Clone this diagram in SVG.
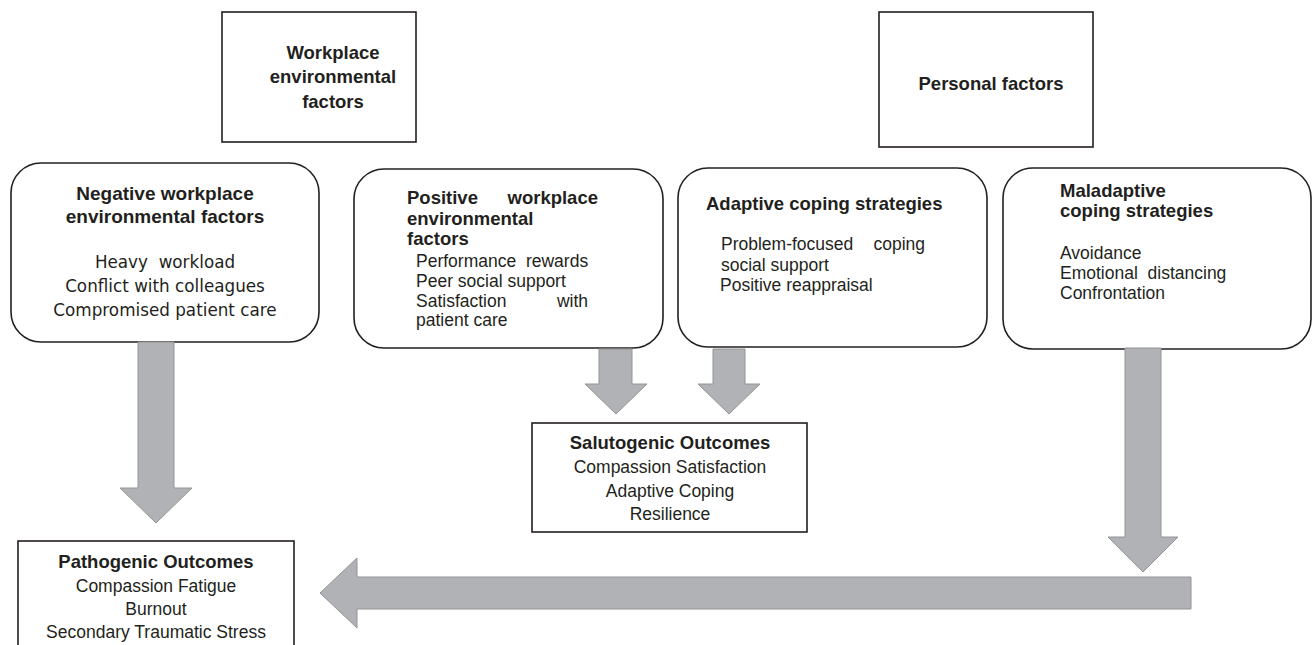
<svg xmlns="http://www.w3.org/2000/svg" width="1313" height="645" viewBox="0 0 1313 645">
<style>
.box{fill:#fff;stroke:#231f20;stroke-width:1.6}
.arr{fill:#b1b2b5;stroke:#939496;stroke-width:1}
.t{font-family:"Liberation Sans",Arial,sans-serif;font-weight:bold;font-size:18.5px;fill:#231f20}
.b{font-family:"Liberation Sans",Arial,sans-serif;font-size:17.5px;fill:#231f20;white-space:pre}
.d{font-family:"DejaVu Sans",sans-serif;font-size:16.8px;fill:#231f20;white-space:pre}
.c{text-anchor:middle}
</style>
<rect width="1313" height="645" fill="#fff"/>
<g id="workplace">
<rect class="box" x="222" y="12" width="194" height="130"/>
<text class="t c" x="333" y="59">Workplace</text>
<text class="t c" x="333" y="83">environmental</text>
<text class="t c" x="333" y="108">factors</text>
</g>
<g id="personal">
<rect class="box" x="879" y="12" width="214" height="135"/>
<text class="t c" x="991" y="90">Personal factors</text>
</g>
<g id="negative">
<rect class="box" x="11" y="163" width="308" height="179" rx="30"/>
<text class="t c" x="165" y="200" style="font-size:19px">Negative workplace</text>
<text class="t c" x="165" y="223" style="font-size:19px">environmental factors</text>
<text class="d c" x="165" y="268">Heavy  workload</text>
<text class="d c" x="165" y="292">Conflict with colleagues</text>
<text class="d c" x="165" y="316">Compromised patient care</text>
</g>
<g id="positive">
<rect class="box" x="354" y="169" width="309" height="179" rx="30"/>
<text class="t" x="407" y="204">Positive</text>
<text class="t" x="598" y="204" text-anchor="end">workplace</text>
<text class="t" x="407" y="225">environmental</text>
<text class="t" x="407" y="245">factors</text>
<text class="b" x="416" y="267">Performance  rewards</text>
<text class="b" x="416" y="287">Peer social support</text>
<text class="b" x="416" y="307">Satisfaction</text>
<text class="b" x="588" y="307" text-anchor="end">with</text>
<text class="b" x="416" y="326">patient care</text>
</g>
<g id="adaptive">
<rect class="box" x="678" y="168" width="309" height="179" rx="30"/>
<text class="t" x="706" y="210">Adaptive coping strategies</text>
<text class="b" x="721" y="250">Problem-focused</text>
<text class="b" x="925" y="250" text-anchor="end">coping</text>
<text class="b" x="721" y="271">social support</text>
<text class="b" x="720" y="291">Positive reappraisal</text>
</g>
<g id="maladaptive">
<rect class="box" x="1003" y="168" width="308" height="181" rx="30"/>
<text class="t" x="1060" y="197">Maladaptive</text>
<text class="t" x="1060" y="217">coping strategies</text>
<text class="b" x="1060" y="259">Avoidance</text>
<text class="b" x="1060" y="279">Emotional  distancing</text>
<text class="b" x="1060" y="299">Confrontation</text>
</g>
<g id="salutogenic">
<rect class="box" x="532" y="423" width="275" height="109"/>
<text class="t c" x="670" y="449">Salutogenic Outcomes</text>
<text class="b c" x="670" y="473">Compassion Satisfaction</text>
<text class="b c" x="670" y="497">Adaptive Coping</text>
<text class="b c" x="670" y="520">Resilience</text>
</g>
<g id="pathogenic">
<rect class="box" x="18" y="541" width="276" height="120"/>
<text class="t c" x="156" y="568">Pathogenic Outcomes</text>
<text class="b c" x="156" y="592">Compassion Fatigue</text>
<text class="b c" x="156" y="615">Burnout</text>
<text class="b c" x="156" y="638">Secondary Traumatic Stress</text>
</g>
<g id="connectors">
<polygon class="arr" points="138,342 174,342 174,488 192,488 156,523 120,488 138,488"/>
<polygon class="arr" points="599,349 632,349 632,384 647,384 616,414 585,384 599,384"/>
<polygon class="arr" points="713,349 745,349 745,384 760,384 729,414 698,384 713,384"/>
<polygon class="arr" points="1125,348 1161,348 1161,537 1178,537 1143,572 1108,537 1125,537"/>
<polygon class="arr" points="1191,577 1191,609 357,609 357,628 320,593 357,558 357,577"/>
</g>
</svg>
